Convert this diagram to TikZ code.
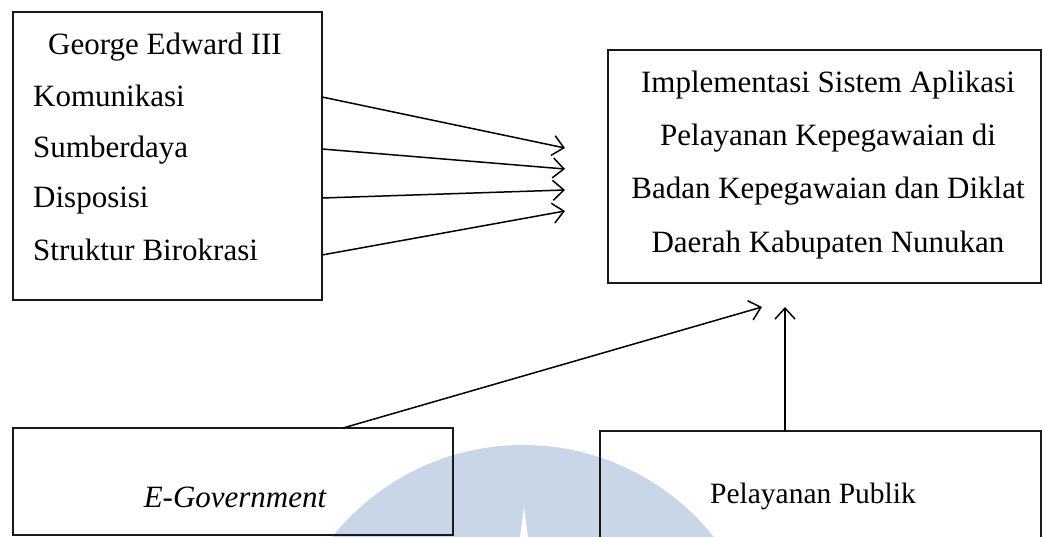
\documentclass[tikz,border=0pt]{standalone}
\usepackage{fontspec}
\setmainfont{Liberation Serif}
\usetikzlibrary{arrows.meta}
\definecolor{wm}{HTML}{C9D6E8}
\begin{document}
\begin{tikzpicture}[x=1pt,y=-1pt,
  box/.style={draw=black!90,line width=1.6pt},
  txt/.style={inner sep=0pt,font=\fontsize{31}{36}\selectfont},
  conn/.style={line width=1.5pt,-{Straight Barb[length=11pt,width=20pt,line width=1.5pt]}}]
\useasboundingbox (0,0) rectangle (1043,537);
% watermark
\begin{scope}
\clip (0,0) rectangle (1043,537);
\fill[wm] (523,689) circle (244);
\fill[white] (524,507) -- (528,537) -- (520,537) -- cycle;
\end{scope}
% boxes
\draw[box] (13,12) rectangle (322,300);
\draw[box] (608,50) rectangle (1041,283);
\draw[box] (13,428) rectangle (453,535);
\draw[box] (600,431) rectangle (1041,540);
% left box text
\node[txt,anchor=base] (ge) at (165,55) {George Edward III};
\node[txt,anchor=base west] (kom) at (33,107) {Komunikasi};
\node[txt,anchor=base west] (sum) at (33,158) {Sumberdaya};
\node[txt,anchor=base west] (dis) at (33,208) {Disposisi};
\node[txt,anchor=base west] (str) at (33,260) {Struktur Birokrasi};
% right box text
\node[txt,anchor=base] (i1) at (828,93) {Implementasi Sistem Aplikasi};
\node[txt,anchor=base] (i2) at (828,146) {Pelayanan Kepegawaian di};
\node[txt,anchor=base] (i3) at (828,199) {Badan Kepegawaian dan Diklat};
\node[txt,anchor=base] (i4) at (828,252) {Daerah Kabupaten Nunukan};
% bottom texts
\node[txt,anchor=base] (eg) at (235,507) {\itshape E-Government};
\node[inner sep=0pt,anchor=base,font=\fontsize{29.5}{34}\selectfont] (pp) at (813,503) {Pelayanan Publik};
% connectors
\coordinate (s1) at (322,97);  \coordinate (e1) at (565,148);
\coordinate (s2) at (322,149); \coordinate (e2) at (565,169);
\coordinate (s3) at (322,198); \coordinate (e3) at (565,190);
\coordinate (s4) at (322,255); \coordinate (e4) at (565,211);
\draw[conn] (s1) -- (e1);
\draw[conn] (s2) -- (e2);
\draw[conn] (s3) -- (e3);
\draw[conn] (s4) -- (e4);
\coordinate (eg0) at (343,428); \coordinate (eg1) at (762,307);
\draw[conn] (eg0) -- (eg1);
\coordinate (pp0) at (785,431); \coordinate (pp1) at (785,307);
\draw[conn] (pp0) -- (pp1);
\end{tikzpicture}
\end{document}
